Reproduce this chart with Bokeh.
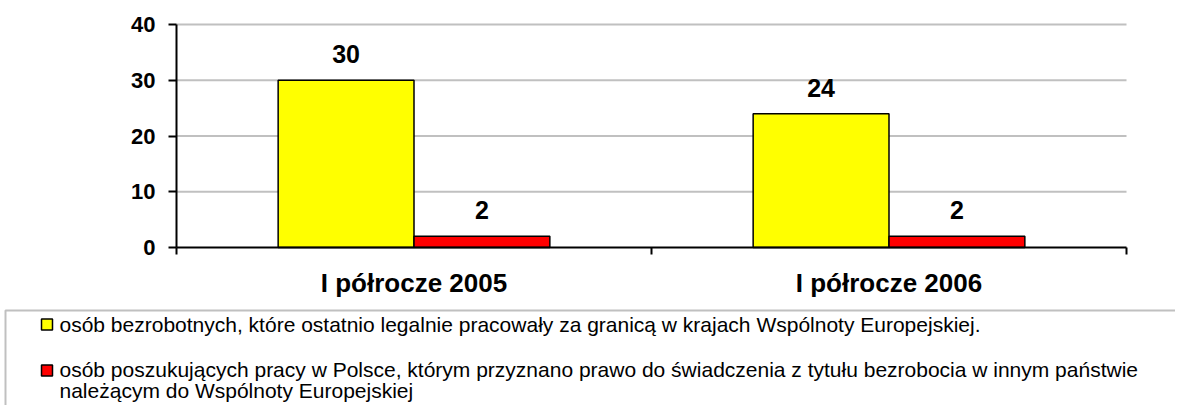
from bokeh.plotting import figure
from bokeh.models import Range1d, FixedTicker, ColumnDataSource
from bokeh.embed import file_html
from bokeh.resources import INLINE
from bokeh.core.properties import value

# ---- data ----
categories = ["I półrocze 2005", "I półrocze 2006"]
unemployed_worked_abroad = [30, 24]
benefit_rights_granted = [2, 2]
series_colors = ["#FFFF00", "#FF0000"]
legend_lines_1 = ["osób bezrobotnych, które ostatnio legalnie pracowały za granicą w krajach Wspólnoty Europejskiej."]
legend_lines_2 = ["osób poszukujących pracy w Polsce, którym przyznano prawo do świadczenia z tytułu bezrobocia w innym państwie",
                  "należącym do Wspólnoty Europejskiej"]
y_ticks = [0, 10, 20, 30, 40]

# ---- layout constants (pixels) ----
FONT = "Liberation Sans"
W, H = 1175, 405
FRAME_L, FRAME_R, FRAME_T, FRAME_B = 176, 1126, 24, 247
BW = 0.286

ncat = len(categories)
xs = (FRAME_R - FRAME_L) / ncat
x_start = -0.5 - FRAME_L / xs
x_end = ncat - 0.5 + (W - FRAME_R) / xs
ymax = y_ticks[-1]
ys = (FRAME_B - FRAME_T) / ymax
y_start = -(H - FRAME_B) / ys
y_end = ymax + FRAME_T / ys

p = figure(width=W, height=H, output_backend="svg", toolbar_location=None,
           x_range=Range1d(x_start, x_end), y_range=Range1d(y_start, y_end),
           min_border=0, min_border_left=0, min_border_right=0,
           min_border_top=0, min_border_bottom=0)
p.outline_line_color = None
p.background_fill_color = "white"
p.border_fill_color = "white"
p.extra_x_ranges = {"px": Range1d(0, W)}
p.extra_y_ranges = {"px": Range1d(H, 0)}

idx = list(range(ncat))

# gridlines (limited to the plot area)
grid_vals = [t for t in y_ticks if t > 0]
p.segment(x0=[-0.5] * len(grid_vals), x1=[ncat - 0.5] * len(grid_vals), y0=grid_vals, y1=grid_vals,
          line_color="#c0c0c0", line_width=2)

src = ColumnDataSource(dict(
    x1=[i - BW / 2 for i in idx], x2=[i + BW / 2 for i in idx],
    v1=unemployed_worked_abroad, v2=benefit_rights_granted,
    t1=[str(v) for v in unemployed_worked_abroad], t2=[str(v) for v in benefit_rights_granted]))

p.vbar(x="x1", top="v1", bottom=0, width=BW, source=src, fill_color=series_colors[0],
       line_color="black", line_width=1.5)
p.vbar(x="x2", top="v2", bottom=0, width=BW, source=src, fill_color=series_colors[1],
       line_color="black", line_width=1.5)

for xc, yc, tc in (("x1", "v1", "t1"), ("x2", "v2", "t2")):
    p.text(x=xc, y=yc, text=tc, source=src, y_offset=-26, text_align="center",
           text_baseline="middle", text_font=value(FONT), text_font_style="bold",
           text_font_size="25px", text_color="black")

# axes (placed at the plot-area edges)
p.yaxis.fixed_location = -0.5
p.yaxis.bounds = (0, ymax)
p.yaxis.ticker = FixedTicker(ticks=y_ticks)
p.yaxis.axis_line_width = 2
p.yaxis.major_tick_line_width = 2
p.yaxis.major_tick_out = 8
p.yaxis.major_tick_in = 0
p.yaxis.minor_tick_line_color = None
p.yaxis.major_label_standoff = 13
p.yaxis.major_label_text_font = FONT
p.yaxis.major_label_text_font_style = "bold"
p.yaxis.major_label_text_font_size = "22px"
p.yaxis.major_label_text_color = "black"

p.xaxis.fixed_location = 0
p.xaxis.bounds = (-0.5, ncat - 0.5)
p.xaxis.ticker = FixedTicker(ticks=idx, minor_ticks=[i - 0.5 for i in idx] + [idx[-1] + 0.5])
p.xaxis.major_label_overrides = {i: c for i, c in zip(idx, categories)}
p.xaxis.axis_line_width = 2
p.xaxis.major_tick_line_color = None
p.xaxis.minor_tick_line_color = "black"
p.xaxis.minor_tick_line_width = 2
p.xaxis.minor_tick_out = 7
p.xaxis.minor_tick_in = 0
p.xaxis.major_tick_out = 7
p.xaxis.major_tick_in = 0
p.xaxis.major_label_standoff = 13
p.xaxis.major_label_text_font = FONT
p.xaxis.major_label_text_font_style = "bold"
p.xaxis.major_label_text_font_size = "26px"
p.xaxis.major_label_text_color = "black"

p.xgrid.visible = False
p.ygrid.visible = False

# ---- legend box (pixel coordinates) ----
p.quad(left=[5], right=[W + 20], top=[310], bottom=[H + 20], fill_color=None,
       line_color="#c0c0c0", line_width=2, x_range_name="px", y_range_name="px")
p.rect(x=[46.5, 46.5], y=[324, 370], width=11, height=11, fill_color=series_colors,
       line_color="black", line_width=1.5, x_range_name="px", y_range_name="px")
lines = legend_lines_1 + legend_lines_2
p.text(x=[59, 59, 59], y=[324, 369, 390], text=lines, text_align="left", text_baseline="middle",
       text_font=value(FONT), text_font_size="21px", text_color="black",
       x_range_name="px", y_range_name="px")

open("out.html", "w").write(file_html(p, INLINE))
